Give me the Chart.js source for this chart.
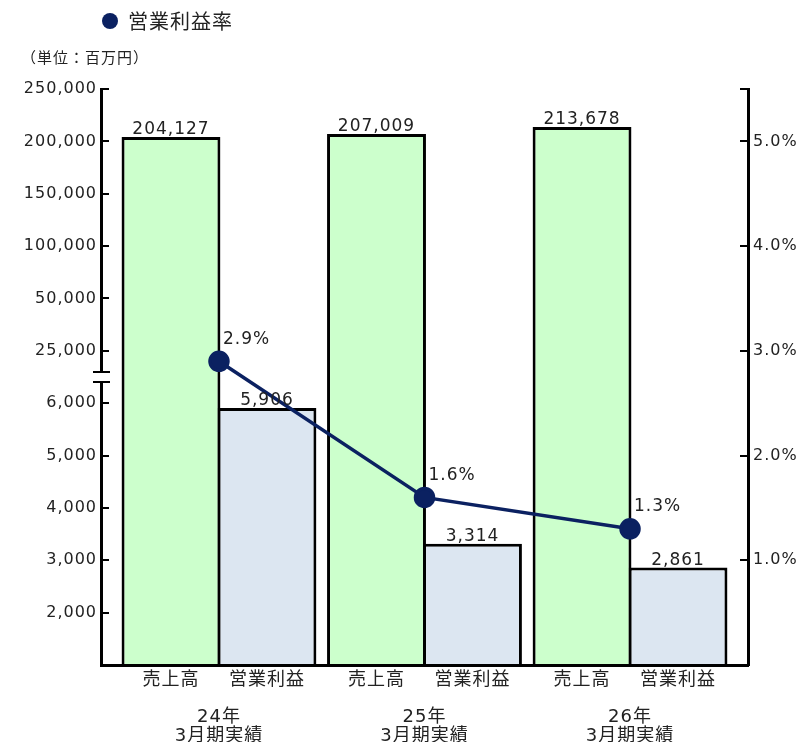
<!DOCTYPE html>
<html>
<head>
<meta charset="utf-8">
<script src="https://cdn.jsdelivr.net/npm/chart.js@4"></script>
<style>
body { margin: 0; background: #fff; }
#wrap { width: 796px; height: 742px; position: relative; }
</style>
</head>
<body>
<div id="wrap"><canvas id="chart1"></canvas></div>
<script>
// data
const periods = ["24年", "25年", "26年"];
const periodSub = "3月期実績";
const barNames = ["売上高", "営業利益"];
const lineName = "営業利益率";
const sales = [204127, 207009, 213678];
const profit = [5906, 3314, 2861];
const margin = [2.9, 1.6, 1.3];
// left axis is broken: each step below is one equal slot on the axis
const leftTicks = [1000, 2000, 3000, 4000, 5000, 6000, 25000, 50000, 100000, 150000, 200000, 250000];
const rightTicks = [1, 2, 3, 4, 5];
const rightMax = 5.5;

const navy = "#0b2161";
const textColor = "#222";
const numFont = '"DejaVu Sans", "Noto Sans CJK JP", sans-serif';
const catPct = 0.934;
const xMin = -0.574;
const xMax = periods.length - 1 + 0.574;

// value -> position on the broken left axis
function toAxis(v) {
    for (let i = 1; i < leftTicks.length; i++) {
        if (v <= leftTicks[i]) {
            return i - 1 + (v - leftTicks[i - 1]) / (leftTicks[i] - leftTicks[i - 1]);
        }
    }
    return leftTicks.length - 1;
}

const fmt = v => v.toLocaleString("en-US");

// label ticks: one under each bar, plus the period label in the middle of each group
const off = catPct / 4;
const xTicks = [];
periods.forEach((p, i) => {
    xTicks.push({ value: i - off, label: barNames[0] });
    xTicks.push({ value: i, label: ["", "", p, periodSub] });
    xTicks.push({ value: i + off, label: barNames[1] });
});

const spacing = {
    id: "spacing",
    beforeDraw(chart) { chart.ctx.letterSpacing = "1px"; }
};

const extras = {
    id: "extras",
    afterDatasetsDraw(chart) {
        const ctx = chart.ctx;
        ctx.save();
        ctx.fillStyle = textColor;
        ctx.font = "17px " + numFont;
        ctx.textAlign = "center";
        ctx.textBaseline = "alphabetic";
        [[1, sales], [2, profit]].forEach(([di, vals]) => {
            chart.getDatasetMeta(di).data.forEach((el, i) => {
                ctx.fillText(fmt(vals[i]), el.x, el.y - 3);
            });
        });
        ctx.textAlign = "left";
        ctx.textBaseline = "middle";
        chart.getDatasetMeta(0).data.forEach((el, i) => {
            ctx.fillText(margin[i].toFixed(1) + "%", el.x + 4, el.y - 22);
        });
        ctx.restore();
    },
    afterDraw(chart) {
        const ctx = chart.ctx;
        const ys = chart.scales.y;
        ctx.save();
        // axis break mark
        const yMid = ys.getPixelForValue(5.5);
        const x = ys.right;
        ctx.fillStyle = "#fff";
        ctx.fillRect(x - 3, yMid - 4, 6, 8);
        ctx.strokeStyle = "#000";
        ctx.lineWidth = 2;
        ctx.beginPath();
        ctx.moveTo(x - 8, yMid - 5); ctx.lineTo(x + 9, yMid - 5);
        ctx.moveTo(x - 8, yMid + 5); ctx.lineTo(x + 9, yMid + 5);
        ctx.stroke();
        // legend
        ctx.fillStyle = navy;
        ctx.beginPath();
        ctx.arc(110, 21, 8, 0, Math.PI * 2);
        ctx.fill();
        ctx.fillStyle = textColor;
        ctx.textBaseline = "middle";
        ctx.textAlign = "left";
        ctx.font = '20px "Noto Sans CJK JP", sans-serif';
        ctx.fillText(lineName, 128, 21);
        ctx.font = '15px "Noto Sans CJK JP", sans-serif';
        ctx.fillText("（単位：百万円）", 21, 57);
        ctx.restore();
    }
};

const chart1 = document.getElementById("chart1");

const comboChart = new Chart(chart1, {
    type: "bar",
    data: {
        datasets: [{
            type: "line",
            label: lineName,
            data: margin.map((v, i) => ({ x: i, y: v })),
            yAxisID: "yr",
            borderColor: navy,
            backgroundColor: navy,
            borderWidth: 3.5,
            pointRadius: 9,
            pointHoverRadius: 9,
            order: 0
        }, {
            label: barNames[0],
            data: sales.map((v, i) => ({ x: i, y: toAxis(v) })),
            yAxisID: "y",
            backgroundColor: "#ccffcc",
            borderColor: "#000",
            borderWidth: 3,
            categoryPercentage: catPct,
            barPercentage: 1.03,
            order: 1
        }, {
            label: barNames[1],
            data: profit.map((v, i) => ({ x: i, y: toAxis(v) })),
            yAxisID: "y",
            backgroundColor: "#dce6f1",
            borderColor: "#000",
            borderWidth: 3,
            categoryPercentage: catPct,
            barPercentage: 1.03,
            order: 2
        }]
    },
    options: {
        responsive: true,
        maintainAspectRatio: false,
        animation: false,
        layout: { padding: { top: 89, left: 0, right: 0, bottom: 0 } },
        plugins: {
            legend: { display: false },
            tooltip: { enabled: false }
        },
        scales: {
            x: {
                type: "linear",
                position: "bottom",
                weight: 0,
                min: xMin,
                max: xMax,
                offset: false,
                afterBuildTicks: s => { s.ticks = periods.map((p, i) => ({ value: i })); },
                afterFit: s => { s.height = 0; },
                grid: { display: false, drawTicks: false },
                border: { color: "#000", width: 3 },
                ticks: { display: false }
            },
            xl: {
                type: "linear",
                position: "bottom",
                weight: 1,
                min: xMin,
                max: xMax,
                offset: false,
                afterBuildTicks: s => { s.ticks = xTicks.map(t => ({ value: t.value })); },
                afterFit: s => { s.height = 77; },
                grid: { display: false, drawTicks: false },
                border: { display: false },
                ticks: {
                    autoSkip: false,
                    maxRotation: 0,
                    padding: 6,
                    color: textColor,
                    font: { size: 18, family: numFont, lineHeight: 1.04 },
                    callback: (v, i) => xTicks[i].label
                }
            },
            y: {
                position: "left",
                min: 0,
                max: leftTicks.length - 1,
                afterFit: s => { s.width = 101; },
                grid: { drawOnChartArea: false, tickLength: -8, color: "#000", lineWidth: 2 },
                border: { color: "#000", width: 3 },
                ticks: {
                    stepSize: 1,
                    autoSkip: false,
                    padding: 12,
                    color: textColor,
                    font: { size: 16, family: numFont },
                    callback: v => (v > 0 && Number.isInteger(v)) ? fmt(leftTicks[v]) : ""
                }
            },
            yr: {
                position: "right",
                min: 0,
                max: rightMax,
                afterFit: s => { s.width = 48; },
                grid: { drawOnChartArea: false, tickLength: -8, color: "#000", lineWidth: 2 },
                border: { color: "#000", width: 3 },
                ticks: {
                    stepSize: 1,
                    autoSkip: false,
                    padding: 13,
                    color: textColor,
                    font: { size: 16, family: numFont },
                    callback: v => rightTicks.includes(v) ? v.toFixed(1) + "%" : ""
                }
            }
        }
    },
    plugins: [spacing, extras]
});
</script>
</body>
</html>
